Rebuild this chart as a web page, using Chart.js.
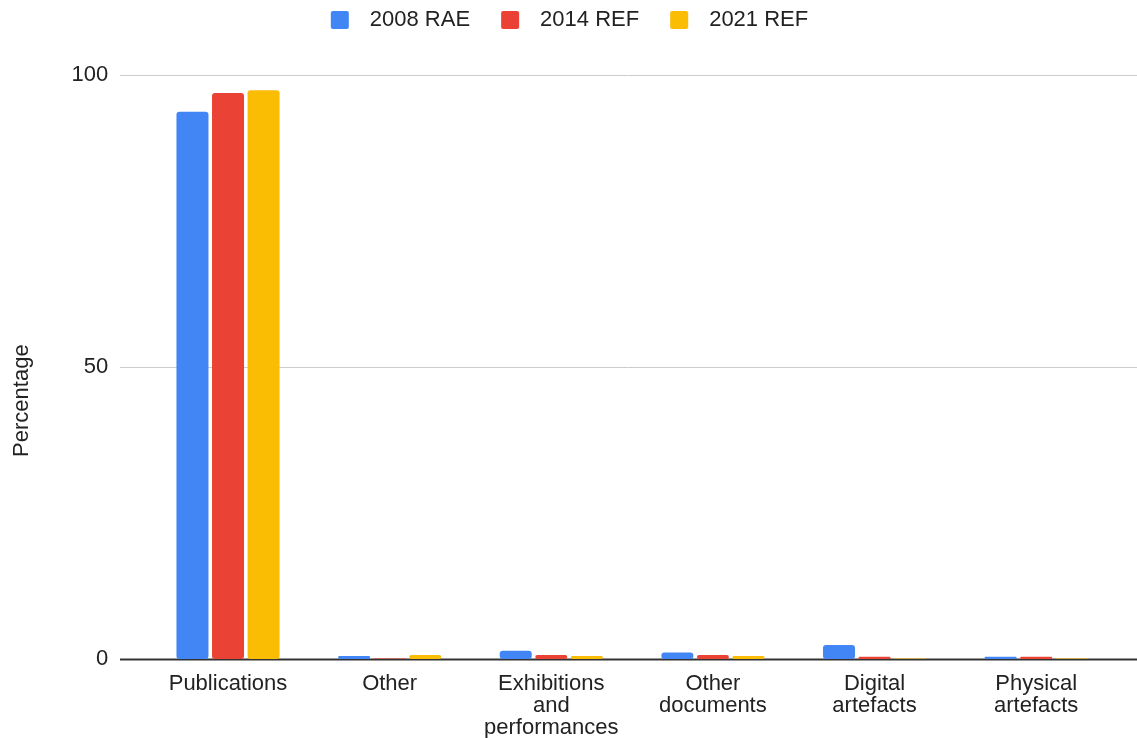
<!DOCTYPE html>
<html>
<head>
<meta charset="utf-8">
<script src="https://cdn.jsdelivr.net/npm/chart.js@4"></script>
<style>
  html, body { margin: 0; padding: 0; background: #fff; }
  #wrap { width: 1137px; height: 738px; }
</style>
</head>
<body>
<div id="wrap"><canvas id="outputChart"></canvas></div>
<script>
const categories = [
    "Publications",
    "Other",
    ["Exhibitions", "and", "performances"],
    ["Other", "documents"],
    ["Digital", "artefacts"],
    ["Physical", "artefacts"]
];
const rae2008 = [93.7, 0.5, 1.4, 1.1, 2.4, 0.4];
const ref2014 = [96.9, 0.1, 0.7, 0.7, 0.4, 0.4];
const ref2021 = [97.4, 0.7, 0.5, 0.5, 0.1, 0.1];
const yTicks = [0, 50, 100];

const FONT = 'Liberation Sans, Arial, sans-serif';

// horizontal gridlines run wider than the bar area, like the original
const wideGrid = {
    id: 'wideGrid',
    beforeDatasetsDraw(chart) {
        const ctx = chart.ctx;
        const y = chart.scales.y;
        ctx.save();
        yTicks.forEach(v => {
            const py = Math.round(y.getPixelForValue(v)) + 0.5;
            ctx.beginPath();
            ctx.strokeStyle = v === 0 ? '#333333' : '#cccccc';
            ctx.lineWidth = v === 0 ? 2 : 1;
            ctx.moveTo(120, py);
            ctx.lineTo(1137, py);
            ctx.stroke();
        });
        ctx.restore();
    }
};

// more room between legend and plot
const legendGap = {
    id: 'legendGap',
    beforeInit(chart) {
        const fit = chart.legend.fit;
        chart.legend.fit = function () {
            fit.call(this);
            this.height += 34;
        };
    }
};

// legend swatch: square with blank space before it, so the text sits further right
function swatch(color) {
    const c = document.createElement('canvas');
    c.width = 50;
    c.height = 18;
    const g = c.getContext('2d');
    g.fillStyle = color;
    g.beginPath();
    g.roundRect(22, 0, 18, 18, 2);
    g.fill();
    return c;
}

const outputChart = new Chart(document.getElementById("outputChart"), {
    type: 'bar',
    data: {
        labels: categories,
        datasets: [{
            label: "2008 RAE",
            backgroundColor: '#4285F4',
            data: rae2008
        }, {
            label: "2014 REF",
            backgroundColor: '#EA4335',
            data: ref2014
        }, {
            label: "2021 REF",
            backgroundColor: '#FBBC04',
            data: ref2021
        }]
    },
    plugins: [wideGrid, legendGap],
    options: {
        responsive: true,
        maintainAspectRatio: false,
        animation: false,
        layout: { padding: { left: 0, right: 20, top: 0, bottom: -15 } },
        datasets: {
            bar: {
                categoryPercentage: 0.66,
                barPercentage: 0.9,
                borderRadius: 3,
                borderSkipped: false
            }
        },
        plugins: {
            legend: {
                position: 'top',
                labels: {
                    font: { family: FONT, size: 22 },
                    color: '#222',
                    usePointStyle: true,
                    pointStyleWidth: 50,
                    padding: 9,
                    generateLabels(chart) {
                        const items = Chart.defaults.plugins.legend.labels.generateLabels(chart);
                        items.forEach(it => { it.pointStyle = swatch(it.fillStyle); });
                        return items;
                    }
                }
            },
            tooltip: { enabled: false }
        },
        scales: {
            x: {
                grid: { display: false, drawTicks: false },
                border: { display: false },
                ticks: {
                    font: { family: FONT, size: 22, lineHeight: 1.0 },
                    color: '#222',
                    maxRotation: 0,
                    autoSkip: false,
                    padding: 14
                }
            },
            y: {
                min: 0,
                max: 100,
                afterBuildTicks(scale) {
                    scale.ticks = yTicks.map(v => ({ value: v }));
                },
                grid: { display: false, drawTicks: false },
                border: { display: false },
                ticks: {
                    font: { family: FONT, size: 22 },
                    color: '#222',
                    padding: 39
                },
                title: {
                    display: true,
                    // trailing spaces push the rotated word a little lower, as in the original
                    text: 'Percentage           ',
                    font: { family: FONT, size: 22, lineHeight: 1 },
                    color: '#222',
                    padding: { top: 10.5, bottom: 0 }
                }
            }
        }
    }
});
</script>
</body>
</html>
